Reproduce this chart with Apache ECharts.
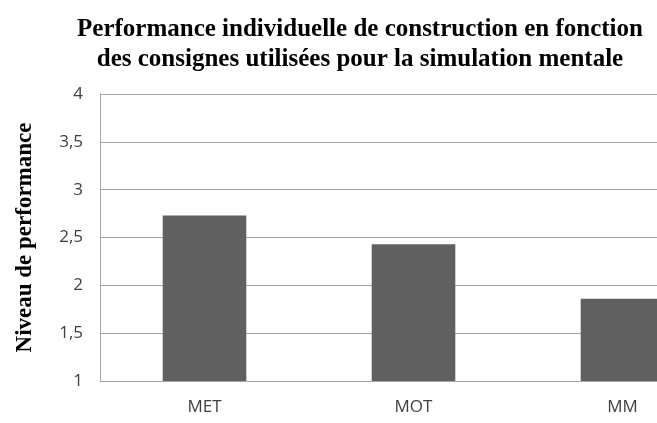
<!DOCTYPE html>
<html>
<head>
<meta charset="utf-8">
<script src="https://cdn.jsdelivr.net/npm/echarts@6/dist/echarts.min.js"></script>
<style>
  html, body { margin: 0; padding: 0; background: #fff; }
  #chart { width: 657px; height: 423px; }
</style>
</head>
<body>
<div id="chart"></div>
<script>
// categories and values
var categories = ["MET", "MOT", "MM"];
var performance = [2.73, 2.43, 1.86];
var yTicks = { min: 1, max: 4, interval: 0.5 };

var chart = echarts.init(document.getElementById("chart"));

var option = {
  animation: false,
  backgroundColor: "#fff",
  title: {
    text: "Performance individuelle de construction en fonction\ndes consignes utilisées pour la simulation mentale",
    left: 355,
    top: 10,
    textAlign: "center",
    textStyle: {
      fontFamily: "Liberation Serif",
      fontWeight: "bold",
      fontSize: 25,
      lineHeight: 30,
      color: "#000"
    }
  },
  grid: {
    left: 100,
    top: 94,
    width: 627, // plot runs past the right edge, last bar is cut
    height: 287,
    outerBoundsMode: "none"
  },
  xAxis: {
    type: "category",
    data: categories,
    axisTick: { show: false },
    axisLine: { lineStyle: { color: "#a6a6a6", width: 1 } },
    axisLabel: {
      margin: 18,
      fontFamily: "Open Sans",
      fontSize: 17,
      color: "#404040"
    }
  },
  yAxis: {
    type: "value",
    min: yTicks.min,
    max: yTicks.max,
    interval: yTicks.interval,
    name: "Niveau de performance",
    nameLocation: "middle",
    nameGap: 63,
    nameTextStyle: {
      fontFamily: "Liberation Serif",
      fontWeight: "bold",
      fontSize: 23,
      color: "#000"
    },
    axisLine: { show: true, lineStyle: { color: "#a6a6a6", width: 1 } },
    axisTick: { show: false },
    splitLine: { lineStyle: { color: "#a6a6a6", width: 1 } },
    axisLabel: {
      margin: 17,
      fontFamily: "Open Sans",
      fontSize: 17,
      color: "#404040",
      formatter: function (v) {
        return String(v).replace(".", ",");
      }
    }
  },
  series: [
    {
      type: "bar",
      data: performance,
      barWidth: "40%",
      itemStyle: { color: "#606060" }
    }
  ]
};

chart.setOption(option);
</script>
</body>
</html>
